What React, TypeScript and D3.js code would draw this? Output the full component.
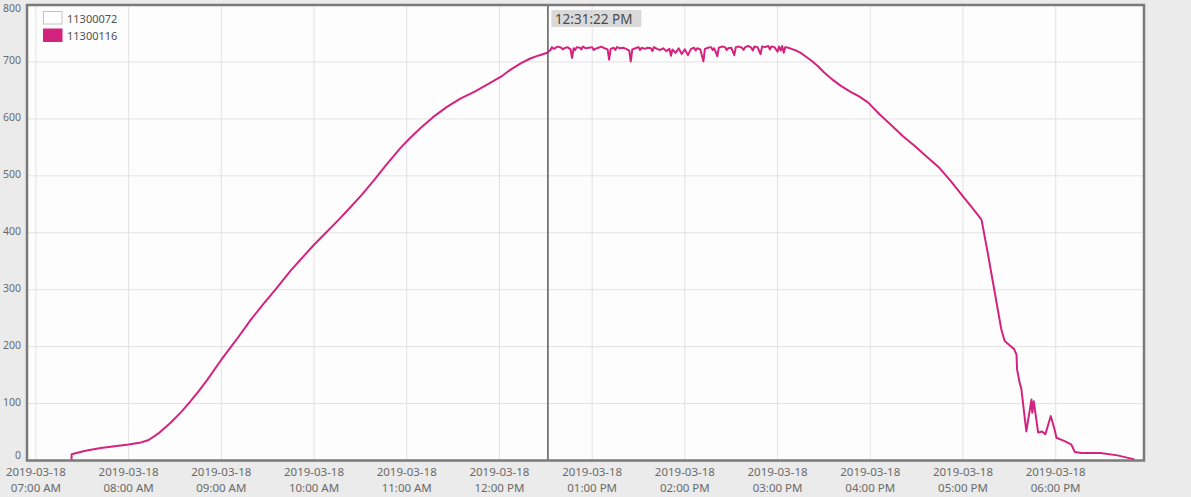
import React from "react";
import * as d3 from "d3";

const DAY = "2019-03-18";
const seriesNames = ["11300072", "11300116"];
const seriesColors = ["#ffffff", "#d4237e"];
const yTickValues = [0, 100, 200, 300, 400, 500, 600, 700, 800];
const xDomainTimes = ["06:54:14", "18:57:10"];
const cursorTime = "12:31:22";
const cursorLabel = "12:31:22 PM";

const rampUp: [string, number][] = [
  ["07:23:00", 0], ["07:23:10", 11], ["07:32:00", 17], ["07:42:00", 22], ["07:51:00", 25],
  ["08:00:00", 28], ["08:07:00", 31], ["08:13:00", 36], ["08:20:00", 49], ["08:27:00", 66],
  ["08:34:00", 85], ["08:40:00", 104], ["08:46:00", 124], ["08:51:00", 142], ["09:00:00", 177],
  ["09:10:00", 213], ["09:19:00", 247], ["09:27:00", 274], ["09:35:00", 300], ["09:45:00", 334],
  ["10:00:00", 379], ["10:08:00", 401], ["10:16:00", 423], ["10:24:00", 446], ["10:31:00", 467],
  ["10:39:00", 493], ["10:47:00", 520], ["10:56:00", 549], ["11:02:00", 566], ["11:09:00", 584],
  ["11:17:00", 603], ["11:26:00", 621], ["11:35:00", 636], ["11:44:00", 648], ["11:52:00", 660],
  ["12:01:00", 674], ["12:07:00", 686], ["12:14:00", 698], ["12:20:00", 706], ["12:25:00", 711],
  ["12:31:00", 716],
];

const plateau: [string, number][] = [
  ["12:33:00", 721], ["12:34:00", 726], ["12:35:00", 723], ["12:36:00", 724], ["12:37:00", 726],
  ["12:38:00", 727], ["12:40:00", 725], ["12:41:00", 722], ["12:42:00", 724], ["12:44:00", 726],
  ["12:46:00", 722], ["12:47:00", 707], ["12:48:00", 724], ["12:49:00", 721], ["12:50:00", 726],
  ["12:52:00", 725], ["12:53:00", 722], ["12:54:00", 727], ["12:56:00", 724], ["12:58:00", 725],
  ["13:00:00", 726], ["13:01:00", 721], ["13:02:00", 723], ["13:04:00", 725], ["13:06:00", 727],
  ["13:08:00", 724], ["13:10:00", 722], ["13:11:00", 704], ["13:12:00", 723], ["13:14:00", 725],
  ["13:15:00", 721], ["13:16:00", 726], ["13:18:00", 724], ["13:20:00", 725], ["13:22:00", 723],
  ["13:24:00", 720], ["13:25:00", 701], ["13:26:00", 722], ["13:28:00", 724], ["13:30:00", 726],
  ["13:31:00", 721], ["13:32:00", 725], ["13:34:00", 723], ["13:36:00", 725], ["13:38:00", 724],
  ["13:39:00", 719], ["13:40:00", 726], ["13:42:00", 723], ["13:44:00", 721], ["13:46:00", 724],
  ["13:48:00", 719], ["13:50:00", 723], ["13:51:00", 711], ["13:52:00", 722], ["13:54:00", 716],
  ["13:56:00", 724], ["13:58:00", 714], ["14:00:00", 722], ["14:02:00", 712], ["14:04:00", 723],
  ["14:06:00", 725], ["14:07:00", 720], ["14:08:00", 724], ["14:10:00", 722], ["14:12:00", 701],
  ["14:13:00", 723], ["14:15:00", 725], ["14:17:00", 726], ["14:18:00", 721], ["14:19:00", 724],
  ["14:21:00", 710], ["14:22:00", 725], ["14:24:00", 727], ["14:26:00", 726], ["14:27:00", 721],
  ["14:28:00", 724], ["14:30:00", 725], ["14:32:00", 712], ["14:33:00", 726], ["14:35:00", 727],
  ["14:37:00", 725], ["14:38:00", 721], ["14:39:00", 726], ["14:41:00", 728], ["14:43:00", 725],
  ["14:44:00", 720], ["14:45:00", 727], ["14:47:00", 726], ["14:49:00", 714], ["14:50:00", 727],
  ["14:52:00", 726], ["14:54:00", 728], ["14:55:00", 722], ["14:56:00", 727], ["14:58:00", 726],
  ["15:00:00", 718], ["15:01:00", 727], ["15:02:00", 720], ["15:03:00", 728], ["15:04:00", 716],
  ["15:05:00", 726], ["15:07:00", 725],
];

const rampDown: [string, number][] = [
  ["15:09:00", 723], ["15:12:00", 720], ["15:15:00", 716], ["15:18:00", 710], ["15:22:00", 702],
  ["15:26:00", 693], ["15:30:00", 682], ["15:36:00", 668], ["15:41:00", 658], ["15:47:00", 648],
  ["15:53:00", 639], ["15:58:30", 629], ["16:06:00", 608], ["16:14:00", 588], ["16:21:00", 570],
  ["16:29:00", 552], ["16:36:00", 535], ["16:44:00", 516], ["16:52:00", 491], ["17:00:00", 464],
  ["17:05:00", 447], ["17:12:00", 423], ["17:16:00", 365], ["17:24:50", 230], ["17:27:00", 210],
  ["17:33:00", 196], ["17:34:40", 186], ["17:35:00", 160], ["17:36:40", 137], ["17:37:50", 125],
  ["17:41:00", 51], ["17:44:20", 107], ["17:44:50", 84], ["17:45:50", 104], ["17:48:40", 49],
  ["17:51:10", 51], ["17:53:20", 46], ["17:56:50", 78], ["17:59:20", 54], ["18:00:30", 40],
  ["18:05:50", 34], ["18:10:10", 28], ["18:12:20", 15], ["18:16:40", 13], ["18:29:00", 13],
  ["18:40:00", 9], ["18:51:00", 2],
];

const W = 1191;
const H = 497;
const PL = 27, PR = 1144, PT = 5, PB = 460.5;
const FONT = "'Noto Sans', 'DejaVu Sans', sans-serif";

const parse = d3.timeParse("%Y-%m-%d %H:%M:%S");
const t = (s: string) => parse(`${DAY} ${s}`) as Date;

export default function App() {
  const x = d3.scaleTime().domain(xDomainTimes.map(t)).range([PL, PR]);
  const y = d3.scaleLinear().domain([0, 800]).range([PB, PT]);
  const data = [...rampUp, ...plateau, ...rampDown].map(([s, v]) => ({ d: t(s), v }));
  const line = d3.line<{ d: Date; v: number }>().x((p) => x(p.d)).y((p) => y(p.v));
  const xTicks = x.ticks(d3.timeHour.every(1)!);
  const fDate = d3.timeFormat("%Y-%m-%d");
  const fTime = d3.timeFormat("%I:%M %p");
  const cx = x(t(cursorTime));

  return (
    <svg width={W} height={H} style={{ position: "absolute", left: 0, top: 0, fontFamily: FONT }}>
      <rect x={0} y={0} width={W} height={H} fill="#ebebeb" />
      <rect x={PL} y={PT} width={PR - PL} height={PB - PT} fill="#fdfdfd" />
      <defs>
        <clipPath id="plotclip">
          <rect x={PL} y={PT} width={PR - PL} height={PB - PT} />
        </clipPath>
      </defs>
      {yTickValues.filter((v) => v > 0 && v < 800).map((v) => (
        <line key={"gy" + v} x1={PL} x2={PR} y1={y(v)} y2={y(v)} stroke="#e2e2e2" strokeWidth={1} />
      ))}
      {xTicks.map((d, i) => (
        <line key={"gx" + i} x1={x(d)} x2={x(d)} y1={PT} y2={PB} stroke="#e2e2e2" strokeWidth={1} />
      ))}
      {yTickValues.map((v) => (
        <text key={"ty" + v} x={21} y={Math.min(455, Math.max(7.5, y(v) - 2))} textAnchor="end" dominantBaseline="central" fontSize={10.5} fill="#6a6a6a">
          {v}
        </text>
      ))}
      {xTicks.map((d, i) => (
        <g key={"tx" + i} fill="#6a6a6a" fontSize={11.5} textAnchor="middle">
          <text x={x(d)} y={475.5}>{fDate(d)}</text>
          <text x={x(d)} y={491.5}>{fTime(d)}</text>
        </g>
      ))}
      <path d={line(data) || ""} fill="none" stroke={seriesColors[1]} strokeWidth={2} strokeLinejoin="round" clipPath="url(#plotclip)" />
      <line x1={cx} x2={cx} y1={PT} y2={PB} stroke="#5a5a5a" strokeWidth={1.5} />
      <rect x={cx + 3.5} y={10} width={90} height={17} fill="#d9d9d9" />
      <text x={cx + 7} y={18.5} dominantBaseline="central" fontSize={13.5} fill="#4a4a4a">{cursorLabel}</text>
      {seriesNames.map((n, i) => (
        <g key={n}>
          <rect x={43.5} y={11.5 + i * 17.5} width={18.5} height={12.5} fill={seriesColors[i]} stroke={i === 0 ? "#c4c4c4" : seriesColors[i]} strokeWidth={1} />
          <text x={67} y={18 + i * 17.5} dominantBaseline="central" fontSize={11} fill="#505050">{n}</text>
        </g>
      ))}
      <rect x={PL} y={PT} width={PR - PL} height={PB - PT} fill="none" stroke="#7a7a7a" strokeWidth={2.5} />
    </svg>
  );
}
